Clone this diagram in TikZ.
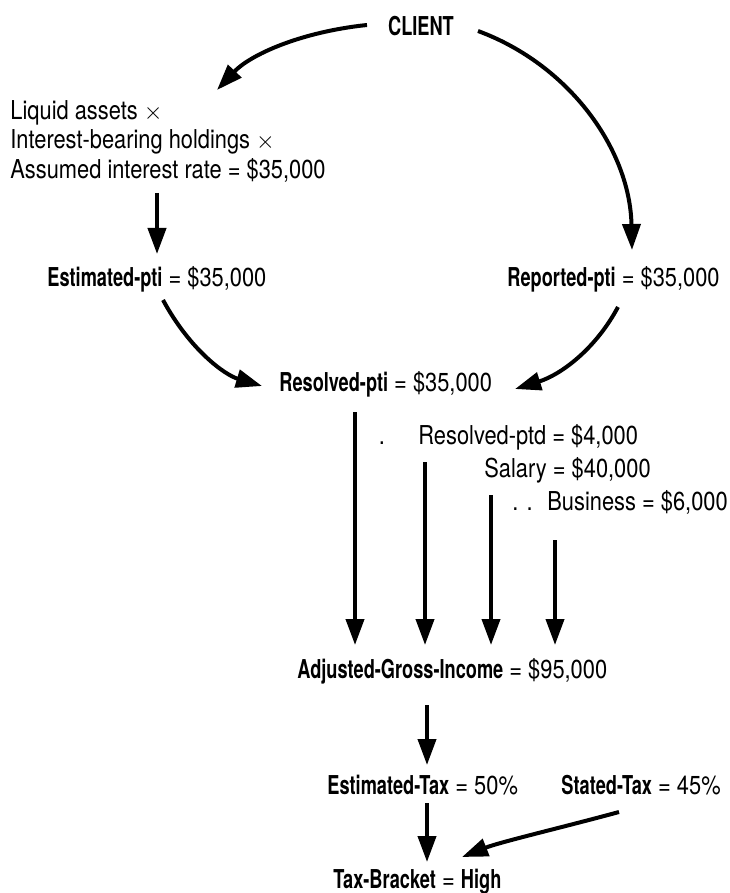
\documentclass[tikz,border=0pt]{standalone}
\usepackage{fontspec}
\setmainfont{TeX Gyre Heros}[FakeStretch=0.84,BoldFeatures={FakeStretch=0.70}]
\usetikzlibrary{arrows.meta}

\begin{document}
\begin{tikzpicture}[x=0.5pt,y=-0.5pt,
			every node/.style={inner sep=0pt,font=\fontsize{13}{14.8}\selectfont},
			flow/.style={line width=2pt,-{Triangle[length=13pt,width=9pt]}},]
\useasboundingbox (0,0) rectangle (729,893);
\node[anchor=base] (client) at (421,36) {\textbf{CLIENT}};
\node[anchor=north west,align=left] (liquid) at (10,100)
	{Liquid assets $\times$\\Interest-bearing holdings $\times$\\Assumed interest rate = \$35,000};
\node[anchor=base west] (estpti) at (47,286) {\textbf{Estimated-pti} = \$35,000};
\node[anchor=base west] (reppti) at (507,286) {\textbf{Reported-pti} = \$35,000};
\node[anchor=base west] (respti) at (279,391) {\textbf{Resolved-pti} = \$35,000};
\node[anchor=base] (dota) at (382,444) {.};
\node[anchor=base west] (resptd) at (418,444) {Resolved-ptd = \$4,000};
\node[anchor=base west] (salary) at (484,477) {Salary = \$40,000};
\node[anchor=base west] (dotb) at (512,510) {. .};
\node[anchor=base west] (business) at (547,510) {Business = \$6,000};
\node[anchor=base west] (agi) at (297,678) {\textbf{Adjusted-Gross-Income} = \$95,000};
\node[anchor=base west] (esttax) at (327,794) {\textbf{Estimated-Tax} = 50\%};
\node[anchor=base west] (statedtax) at (561,794) {\textbf{Stated-Tax} = 45\%};
\node[anchor=base west] (bracket) at (333,888) {\textbf{Tax-Bracket} = \textbf{High}};

% ends of the connectors
\coordinate (cl) at (367,25);
\coordinate (cr) at (478,31);
\coordinate (lq) at (217,90);
\coordinate (rp) at (632,250);
\coordinate (lqout) at (157,193);
\coordinate (epin) at (157,254);
\coordinate (epout) at (163,300);
\coordinate (rpout) at (618,307);
\coordinate (rsl) at (262,386);
\coordinate (rsr) at (515,389);
\coordinate (agiout) at (427,705);
\coordinate (etin) at (427,765);
\coordinate (etout) at (427,803);
\coordinate (brin) at (427,862);
\coordinate (stout) at (619,812);
\coordinate (brr) at (462,857);

\draw[flow] (cl) .. controls (300,32) and (250,55) .. (lq);
\draw[flow] (cr) .. controls (570,65) and (630,150) .. (rp);
\draw[flow] (lqout) -- (epin);
\draw[flow] (epout) .. controls (190,350) and (225,375) .. (rsl);
\draw[flow] (rpout) .. controls (595,350) and (560,375) .. (rsr);
\foreach \x/\y [count=\i] in {355/412,425/462,491/495,555/540}
	{\coordinate (in\i) at (\x,\y);
	\draw[flow] (in\i) -- (\x,645);}
\draw[flow] (agiout) -- (etin);
\draw[flow] (etout) -- (brin);
\draw[flow] (stout) .. controls (560,828) and (500,842) .. (brr);
\end{tikzpicture}
\end{document}
